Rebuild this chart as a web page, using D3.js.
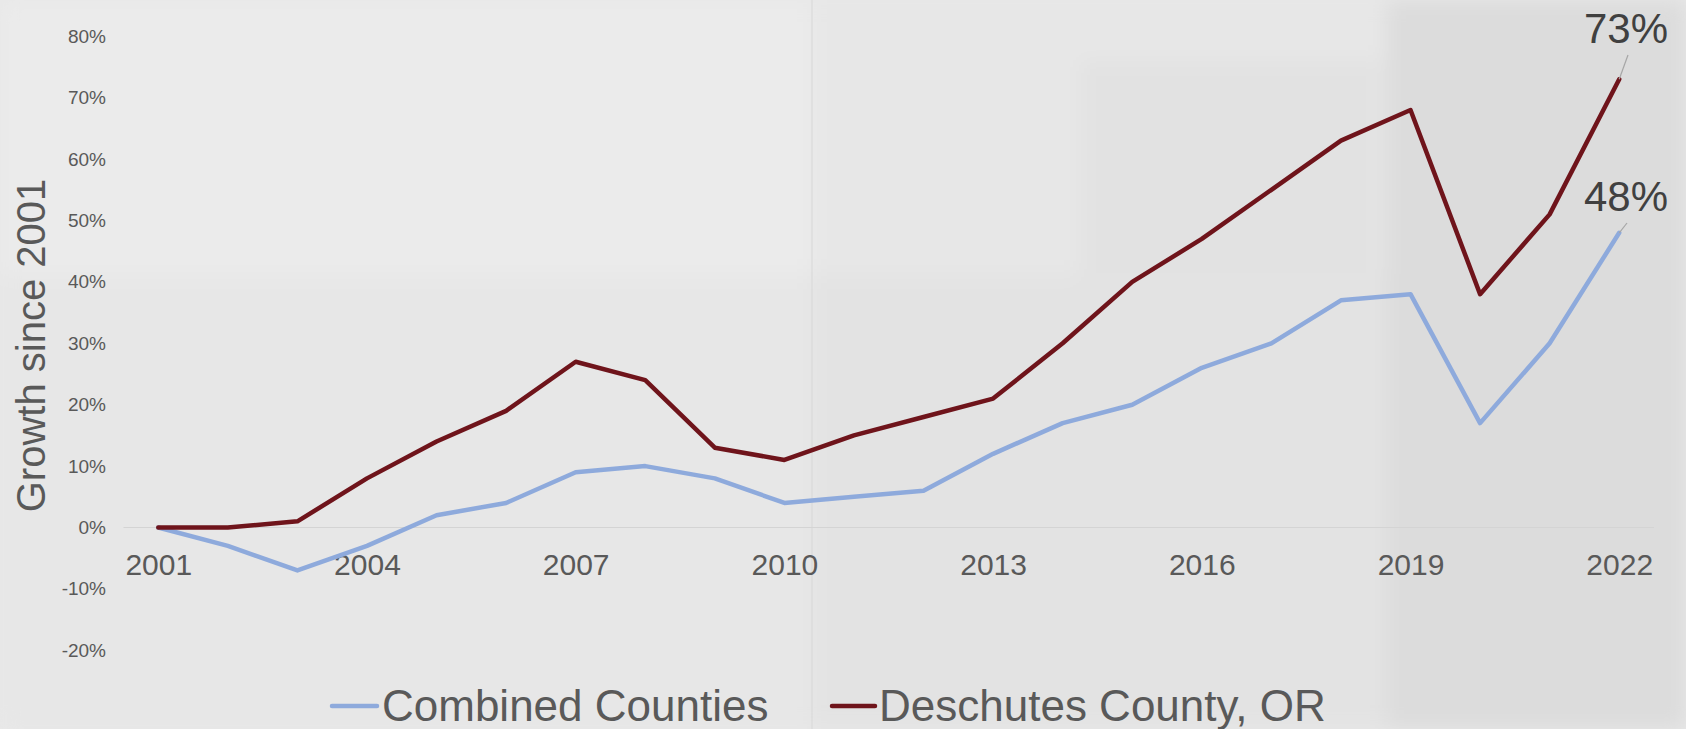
<!DOCTYPE html>
<html>
<head>
<meta charset="utf-8">
<script src="https://cdn.jsdelivr.net/npm/d3@7"></script>
<style>
  html, body { margin: 0; padding: 0; background: #e8e8e8; }
  svg { display: block; font-family: "Liberation Sans", Arial, sans-serif; }
</style>
</head>
<body>
<svg id="chart" width="1686" height="729"></svg>
<script>
const years = [2001,2002,2003,2004,2005,2006,2007,2008,2009,2010,2011,2012,2013,2014,2015,2016,2017,2018,2019,2020,2021,2022];
const combined = [0,-3,-7,-3,2,4,9,10,8,4,5,6,12,17,20,26,30,37,38,17,30,48];
const deschutes = [0,0,1,8,14,19,27,24,13,11,15,18,21,30,40,47,55,63,68,38,51,73];
const yTicks = [-20,-10,0,10,20,30,40,50,60,70,80];
const xTickYears = [2001,2004,2007,2010,2013,2016,2019,2022];
const seriesNames = ["Combined Counties", "Deschutes County, OR"];
const seriesColors = ["#8eaadc", "#6f141b"];

const W = 1686, H = 729;
const svg = d3.select("#chart");

// paper-like background
const defs = svg.append("defs");
defs.append("filter").attr("id", "soft").attr("x", "-10%").attr("y", "-10%").attr("width", "120%").attr("height", "120%")
  .append("feGaussianBlur").attr("stdDeviation", 10);
svg.append("rect").attr("width", W).attr("height", H).attr("fill", "#e8e8e8");
const bg = svg.append("g").attr("filter", "url(#soft)");
const patches = [
  [0, 0, 812, 274, "#ebebeb"],
  [812, 0, 575, 274, "#e7e7e7"],
  [0, 274, 812, 455, "#e7e7e7"],
  [812, 274, 575, 455, "#e3e3e3"],
  [1387, 0, 299, 729, "#dcdcdc"],
  [1080, 60, 300, 220, "#e2e2e2"]
];
patches.forEach(p => bg.append("rect").attr("x", p[0]).attr("y", p[1]).attr("width", p[2]).attr("height", p[3]).attr("fill", p[4]));
svg.append("rect").attr("x", 811).attr("y", 0).attr("width", 2).attr("height", H).attr("fill", "#d8d8d8").attr("opacity", 0.5);

const x = d3.scalePoint().domain(years).range([123.5, 1654]).padding(0.5);
const y = d3.scaleLinear().domain([-20, 80]).range([650.3, 36.3]);

// zero line
svg.append("line")
  .attr("x1", 123.5).attr("x2", 1654)
  .attr("y1", y(0)).attr("y2", y(0))
  .attr("stroke", "#d4d4d4").attr("stroke-width", 1.2);

// y axis labels
const yAxis = d3.axisLeft(y).tickValues(yTicks).tickSize(0).tickPadding(0).tickFormat(d => d + "%");
const gy = svg.append("g").attr("transform", "translate(106,0)").call(yAxis);
gy.select(".domain").remove();
gy.selectAll("text").attr("font-size", 19).attr("fill", "#595959")
  .attr("font-family", "'Liberation Sans', Arial, sans-serif");

// x axis labels
const xAxis = d3.axisBottom(x).tickValues(xTickYears).tickSize(0).tickPadding(0);
const gx = svg.append("g").attr("transform", `translate(0,${y(0)})`).call(xAxis);
gx.select(".domain").remove();
gx.selectAll("text").attr("font-size", 30).attr("fill", "#595959")
  .attr("dy", null).attr("y", 47.5)
  .attr("font-family", "'Liberation Sans', Arial, sans-serif");

// y title
svg.append("text")
  .attr("transform", "translate(45,345.5) rotate(-90)")
  .attr("text-anchor", "middle")
  .attr("font-size", 40).attr("fill", "#595959")
  .text("Growth since 2001");

// lines
const line = d3.line().x((d, i) => x(years[i])).y(d => y(d));
[combined, deschutes].forEach((s, k) => {
  svg.append("path").datum(s)
    .attr("d", line)
    .attr("fill", "none")
    .attr("stroke", seriesColors[k])
    .attr("stroke-width", 4.5)
    .attr("stroke-linejoin", "round")
    .attr("stroke-linecap", "round");
});

// data labels with leader lines
const last = years.length - 1;
const labels = [
  {v: combined[last], ty: 211, lx1: 1627, ly1: 223},
  {v: deschutes[last], ty: 43, lx1: 1628, ly1: 55}
];
labels.forEach(l => {
  svg.append("line")
    .attr("x1", l.lx1).attr("y1", l.ly1)
    .attr("x2", x(years[last])).attr("y2", y(l.v))
    .attr("stroke", "#a6a6a6").attr("stroke-width", 1.2);
  svg.append("text")
    .attr("x", 1626).attr("y", l.ty)
    .attr("text-anchor", "middle")
    .attr("font-size", 42).attr("fill", "#404040")
    .text(l.v + "%");
});

// legend
const legendItems = [
  {x1: 332, x2: 377, tx: 382},
  {x1: 832, x2: 875, tx: 879}
];
legendItems.forEach((it, k) => {
  svg.append("line")
    .attr("x1", it.x1).attr("x2", it.x2).attr("y1", 706).attr("y2", 706)
    .attr("stroke", seriesColors[k]).attr("stroke-width", 4.5).attr("stroke-linecap", "round");
  svg.append("text")
    .attr("x", it.tx).attr("y", 721)
    .attr("font-size", 44).attr("fill", "#595959")
    .text(seriesNames[k]);
});
</script>
</body>
</html>
